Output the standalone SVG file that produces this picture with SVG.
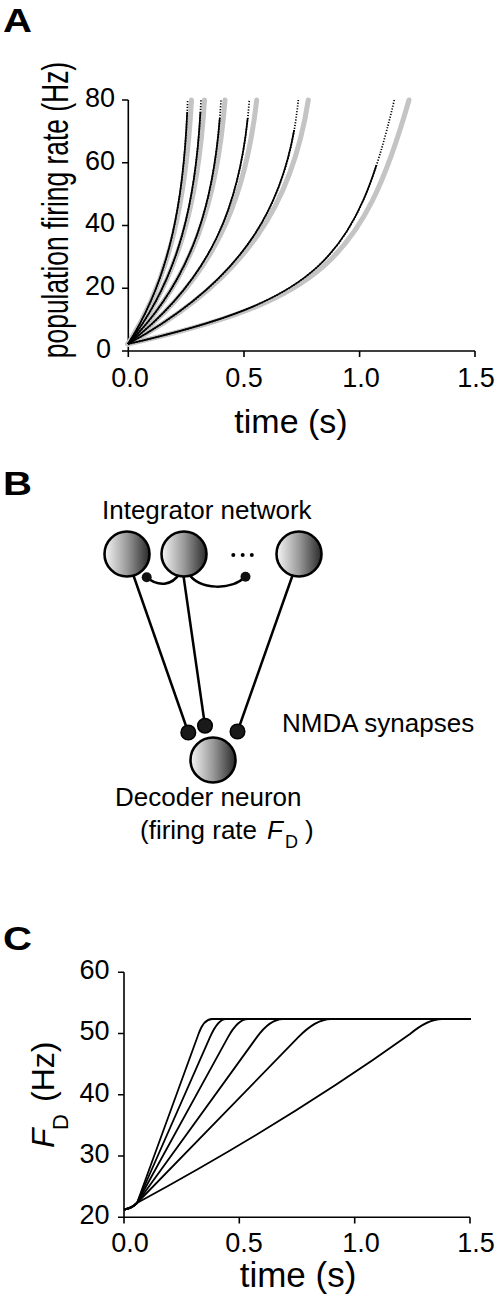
<svg xmlns="http://www.w3.org/2000/svg" width="498" height="1301" viewBox="0 0 498 1301">
<style>
text{font-family:"Liberation Sans",Arial,sans-serif;fill:#000}
.pl{font-weight:bold;font-size:34px}
.tk{font-size:27px}
.ax{fill:none;stroke:#000;stroke-width:1.6}
.gr{fill:none;stroke:#c4c4c4;stroke-width:5;stroke-linecap:round}
.bk{fill:none;stroke:#000;stroke-width:1.7}
.bd{fill:none;stroke:#000;stroke-width:1.7;stroke-dasharray:1.2 1.6}
.cc{fill:none;stroke:#000;stroke-width:1.8;stroke-linejoin:round}
.neuron{fill:url(#shade);stroke:#000;stroke-width:2.6}
.syn{fill:#1a1a1a;stroke:#000;stroke-width:1.5}
.wire{fill:none;stroke:#000;stroke-width:2.5}
.lbl{font-size:26px}
</style>
<defs>
<linearGradient id="shade" x1="0" y1="0" x2="1" y2="0">
<stop offset="0" stop-color="#f6f6f6"/>
<stop offset="0.5" stop-color="#9a9a9a"/>
<stop offset="1" stop-color="#2a2a2a"/>
</linearGradient>
<clipPath id="cl1"><rect x="0" y="112" width="498" height="260"/></clipPath>
<clipPath id="cl2"><rect x="0" y="118" width="498" height="260"/></clipPath>
<clipPath id="cl3"><rect x="0" y="130" width="498" height="260"/></clipPath>
<clipPath id="cl4"><rect x="0" y="165" width="498" height="260"/></clipPath>
</defs>

<!-- Panel A -->
<g id="panelA">
<text class="pl" transform="translate(3,32) scale(1.18,1)">A</text>
<path class="ax" d="M128.3,100 V351 H475 M122,100 H128.3 M122,162.75 H128.3 M122,225.5 H128.3 M122,288.25 H128.3 M122,351 H128.3 M128.3,351 V357 M244,351 V357 M359.6,351 V357 M475,351 V357"/>
<g class="tk" text-anchor="end">
<text x="115" y="107">80</text>
<text x="115" y="169.5">60</text>
<text x="115" y="232">40</text>
<text x="115" y="295">20</text>
<text x="111" y="357.5">0</text>
</g>
<g class="tk" text-anchor="middle">
<text x="130" y="387">0.0</text>
<text x="244" y="387">0.5</text>
<text x="361" y="387">1.0</text>
<text x="476" y="387">1.5</text>
</g>
<text x="291" y="433" text-anchor="middle" font-size="34">time (s)</text>
<text transform="translate(68,210) rotate(-90) scale(1,1.42)" text-anchor="middle" font-size="26.4">population firing rate (Hz)</text>
<g id="grayCurves">
<path class="gr" d="M128,344 C170.1,278 185.9,200 191.5,100"/>
<path class="gr" d="M128,344 C179.5,278 198.3,200 204.5,100"/>
<path class="gr" d="M128,344 C193.6,278 217.3,200 225,100"/>
<path class="gr" d="M128,344 C214.5,278 245.4,200 256.7,100"/>
<path class="gr" d="M128,344 C249,279 292.8,200 308.3,100"/>
<path class="gr" d="M128,344 C320,301 362.6,262 409,100"/>
</g>
<g id="blackCurves">
<path class="bk" clip-path="url(#cl1)" d="M128,344 C170.1,278 184.2,200 187.7,100"/>
<path class="bk" clip-path="url(#cl1)" d="M128,344 C179.5,278 196.7,200 201,100"/>
<path class="bk" clip-path="url(#cl2)" d="M128,344 C193.6,278 215.5,200 221,100"/>
<path class="bk" clip-path="url(#cl2)" d="M128,344 C213.5,278 242.1,200 249.3,100"/>
<path class="bk" clip-path="url(#cl3)" d="M128,344 C248,278 288.3,200 298.3,100"/>
<path class="bk" clip-path="url(#cl4)" d="M128,344 C318,300 356,262 394.3,100"/>
<path class="bd" d="M128,344 C170.1,278 184.2,200 187.7,100"/>
<path class="bd" d="M128,344 C179.5,278 196.7,200 201,100"/>
<path class="bd" d="M128,344 C193.6,278 215.5,200 221,100"/>
<path class="bd" d="M128,344 C213.5,278 242.1,200 249.3,100"/>
<path class="bd" d="M128,344 C248,278 288.3,200 298.3,100"/>
<path class="bd" d="M128,344 C318,300 356,262 394.3,100"/>
</g>
</g>

<!-- Panel B -->
<text class="pl" transform="translate(3,495) scale(1.18,1)">B</text>
<text class="lbl" x="102" y="519">Integrator network</text>
<text class="lbl" x="282" y="731.5">NMDA synapses</text>
<text class="lbl" x="115" y="806">Decoder neuron</text>
<text class="lbl" x="140" y="839">(firing rate <tspan x="267" font-style="italic">F</tspan><tspan x="285" dy="9" font-size="18">D</tspan><tspan x="305" dy="-9">)</tspan></text>

<g id="connectors">
<path class="wire" d="M133.3,575 L188.3,732.5"/>
<path class="wire" d="M183.5,576 L205,725.7"/>
<path class="wire" d="M292.5,575.5 L237.5,731.5"/>
<path class="wire" d="M146.7,577.3 C158,587 172,586 180,573"/>
<path class="wire" d="M188,573 C200,591 232,590 245,577"/>
</g>
<g id="integrator1"><circle class="neuron" cx="127" cy="554" r="22.5"/></g>
<g id="integrator2"><circle class="neuron" cx="184" cy="554" r="22.5"/></g>
<g id="integrator3"><circle class="neuron" cx="299" cy="554" r="22.5"/></g>
<g id="ellipsis" fill="#000">
<circle cx="233.3" cy="555" r="2"/>
<circle cx="242.7" cy="555" r="2"/>
<circle cx="251.8" cy="555" r="2"/>
</g>
<g id="recurrentSynapses">
<circle cx="146.7" cy="577.3" r="5" fill="#111"/>
<circle cx="245.5" cy="576.7" r="5" fill="#111"/>
</g>
<g id="decoder"><circle class="neuron" cx="213" cy="760" r="22.5"/></g>
<g id="nmdaSynapses">
<circle class="syn" cx="188.3" cy="732.5" r="7.3"/>
<circle class="syn" cx="205" cy="725.7" r="7.3"/>
<circle class="syn" cx="237.5" cy="731.5" r="7.3"/>
</g>

<!-- Panel C -->
<g id="panelC">
<text class="pl" transform="translate(3,950) scale(1.18,1)">C</text>
<path class="ax" d="M124,972.3 V1217.3 H470 M118,972.3 H124 M118,1033.5 H124 M118,1094.8 H124 M118,1156 H124 M118,1217.3 H124 M124,1217.3 V1223.5 M239.3,1217.3 V1223.5 M354.7,1217.3 V1223.5 M470,1217.3 V1223.5"/>
<g class="tk" text-anchor="end">
<text x="109.5" y="978.5">60</text>
<text x="109.5" y="1040">50</text>
<text x="109.5" y="1101.5">40</text>
<text x="109.5" y="1162.5">30</text>
<text x="109.5" y="1224">20</text>
</g>
<g class="tk" text-anchor="middle">
<text x="130" y="1251.7">0.0</text>
<text x="244" y="1251.7">0.5</text>
<text x="361" y="1251.7">1.0</text>
<text x="476" y="1251.7">1.5</text>
</g>
<text x="298" y="1286.5" text-anchor="middle" font-size="35">time (s)</text>
<text transform="translate(54,1148) rotate(-90)" font-size="32"><tspan x="0" font-style="italic">F</tspan><tspan x="18" dy="14" font-size="22">D</tspan><tspan x="46" dy="-14">(Hz)</tspan></text>
<g id="ramps">
<path class="cc" d="M124,1209.5 C129,1209 133,1207 137,1203 L198.6,1033.7 Q204,1019 212,1019 L470.7,1019"/>
<path class="cc" d="M124,1209.5 C129,1209 133,1207 137,1203 L209.9,1037.4 Q218,1019 226,1019 L470.7,1019"/>
<path class="cc" d="M124,1209.5 C129,1209 133,1207 137,1203 L227.9,1037.4 Q238,1019 248,1019 L470.7,1019"/>
<path class="cc" d="M124,1209.5 C129,1209 133,1207 137,1203 L256.7,1037.4 Q270,1019 283,1019 L470.7,1019"/>
<path class="cc" d="M124,1209.5 C129,1209 133,1207 137,1203 L298.1,1037.4 Q316,1019 331,1019 L470.7,1019"/>
<path class="cc" d="M124,1209.5 C129,1209 133,1207 137,1203 Q290,1120 410,1034 Q428,1019 442,1019 L470.7,1019"/>
</g>
</g>
</svg>
